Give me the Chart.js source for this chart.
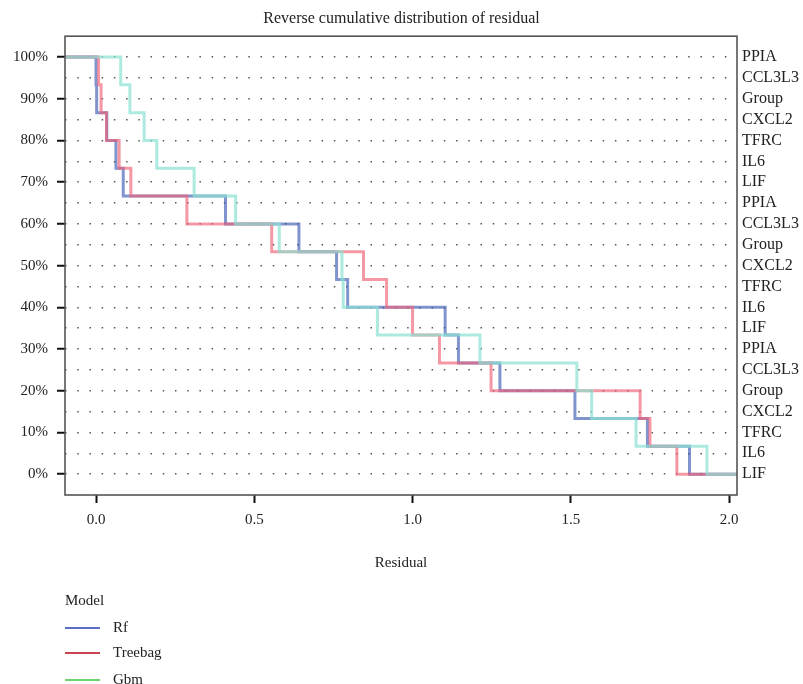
<!DOCTYPE html>
<html>
<head>
<meta charset="utf-8">
<script src="https://cdn.jsdelivr.net/npm/chart.js@4.4.1/dist/chart.umd.min.js"></script>
<style>
  html, body { margin: 0; padding: 0; background: #fff; }
  #wrap { width: 803px; height: 684px; }
</style>
</head>
<body>
<div id="wrap"><canvas id="residualChart" width="803" height="684"></canvas></div>
<script>
// sorted residuals per model
var models = ['Rf', 'Treebag', 'Gbm'];
var rfResiduals = [0.000, 0.002, 0.034, 0.063, 0.086, 0.409, 0.641, 0.760, 0.795, 1.103, 1.145, 1.276, 1.513, 1.742, 1.875];
var treebagResiduals = [0.008, 0.016, 0.033, 0.073, 0.110, 0.287, 0.555, 0.845, 0.918, 1.000, 1.085, 1.248, 1.719, 1.750, 1.835];
var gbmResiduals = [0.078, 0.107, 0.152, 0.192, 0.310, 0.441, 0.579, 0.777, 0.781, 0.889, 1.213, 1.519, 1.566, 1.706, 1.930];

var xTicks = [0, 0.5, 1.0, 1.5, 2.0];
var yTicks = [0, 5, 10, 15, 20, 25, 30, 35, 40, 45, 50, 55, 60, 65, 70, 75, 80, 85, 90, 95, 100];
var rightLabels = ['PPIA', 'CCL3L3', 'Group', 'CXCL2', 'TFRC', 'IL6', 'LIF',
                   'PPIA', 'CCL3L3', 'Group', 'CXCL2', 'TFRC', 'IL6', 'LIF',
                   'PPIA', 'CCL3L3', 'Group', 'CXCL2', 'TFRC', 'IL6', 'LIF'];

var X_MIN = -0.098, X_MAX = 2.025;
var FONT = "'Liberation Serif', 'Times New Roman', serif";
var lineColors = ['rgba(62,92,180,0.66)', 'rgba(240,98,118,0.66)', 'rgba(140,225,210,0.72)'];
var legendColors = ['#5a6ec6', '#c8424f', '#6fd46f'];

// reverse cumulative steps: start at 100%, drop 1/n at each residual
function revCumulative(res) {
  var n = res.length;
  var pts = [{ x: X_MIN, y: 100 }];
  res.forEach(function (r, i) {
    pts.push({ x: r, y: 100 * (n - i - 1) / n });
  });
  pts.push({ x: X_MAX, y: 0 });
  return pts;
}

var series = [rfResiduals, treebagResiduals, gbmResiduals];

var boxPlugin = {
  id: 'plotBox',
  afterDatasetsDraw: function (chart) {
    var a = chart.chartArea, ctx = chart.ctx;
    ctx.save();
    ctx.strokeStyle = '#555';
    ctx.lineWidth = 1.6;
    ctx.strokeRect(a.left, a.top, a.right - a.left, a.bottom - a.top);
    ctx.restore();
  }
};

var legendPlugin = {
  id: 'modelLegend',
  afterDraw: function (chart) {
    var ctx = chart.ctx;
    var x0 = 65, rows = [628, 653, 680];
    ctx.save();
    ctx.font = '15px ' + FONT;
    ctx.fillStyle = '#222';
    ctx.textBaseline = 'middle';
    ctx.textAlign = 'left';
    ctx.fillText('Model', x0, 601);
    models.forEach(function (m, i) {
      ctx.strokeStyle = legendColors[i];
      ctx.lineWidth = 2;
      ctx.beginPath();
      ctx.moveTo(x0, rows[i]);
      ctx.lineTo(x0 + 35, rows[i]);
      ctx.stroke();
      ctx.fillText(m, x0 + 48, rows[i]);
    });
    ctx.restore();
  }
};

function setTicks(list) {
  return function (scale) {
    scale.ticks = list.map(function (v) { return { value: v }; });
  };
}

new Chart(document.getElementById('residualChart'), {
  type: 'line',
  data: {
    datasets: models.map(function (m, i) {
      return {
        label: m,
        data: revCumulative(series[i]),
        borderColor: lineColors[i],
        backgroundColor: lineColors[i],
        borderWidth: 3,
        stepped: 'before',
        pointRadius: 0,
        fill: false,
        order: 2 - i,
        yAxisID: 'y'
      };
    })
  },
  options: {
    responsive: false,
    animation: false,
    layout: { padding: { left: 0, right: 0, top: 0, bottom: 104 } },
    plugins: {
      legend: { display: false },
      tooltip: { enabled: false },
      title: {
        display: true,
        text: 'Reverse cumulative distribution of residual',
        color: '#222',
        font: { family: FONT, size: 16, weight: 'normal' },
        padding: { top: 9, bottom: 8 }
      }
    },
    scales: {
      x: {
        type: 'linear',
        min: X_MIN,
        max: X_MAX,
        afterBuildTicks: setTicks(xTicks),
        afterFit: function (s) { s.height = 85; },
        grid: { drawOnChartArea: false, drawTicks: true, tickLength: 8, tickWidth: 2, tickColor: '#111' },
        border: { display: false },
        ticks: {
          padding: 8,
          color: '#222',
          font: { family: FONT, size: 15 },
          callback: function (v) { return v.toFixed(1); }
        },
        title: {
          display: true,
          text: 'Residual',
          color: '#222',
          font: { family: FONT, size: 15 },
          padding: { top: 0, bottom: 8 }
        }
      },
      y: {
        type: 'linear',
        position: 'left',
        min: -5,
        max: 105,
        afterBuildTicks: setTicks(yTicks),
        afterFit: function (s) { s.width = 65; },
        grid: {
          drawOnChartArea: true,
          drawTicks: true,
          lineWidth: 1.5,
          color: '#555',
          tickLength: 8,
          tickWidth: 2,
          tickBorderDash: [1, 0],
          tickColor: function (c) { return c.tick && c.tick.value % 10 === 0 ? '#111' : 'rgba(0,0,0,0)'; }
        },
        border: { display: false, dash: [1.5, 10.72] },
        ticks: {
          padding: 9,
          color: '#222',
          font: { family: FONT, size: 15 },
          callback: function (v) { return v % 10 === 0 ? v + '%' : ''; }
        }
      },
      y2: {
        type: 'linear',
        position: 'right',
        min: -5,
        max: 105,
        afterBuildTicks: setTicks(yTicks),
        afterFit: function (s) { s.width = 66; },
        grid: { display: false, drawTicks: false },
        border: { display: false },
        ticks: {
          padding: 5,
          color: '#222',
          font: { family: FONT, size: 16 },
          callback: function (v) { return rightLabels[Math.round((100 - v) / 5)] || ''; }
        }
      }
    }
  },
  plugins: [boxPlugin, legendPlugin]
});
</script>
</body>
</html>
